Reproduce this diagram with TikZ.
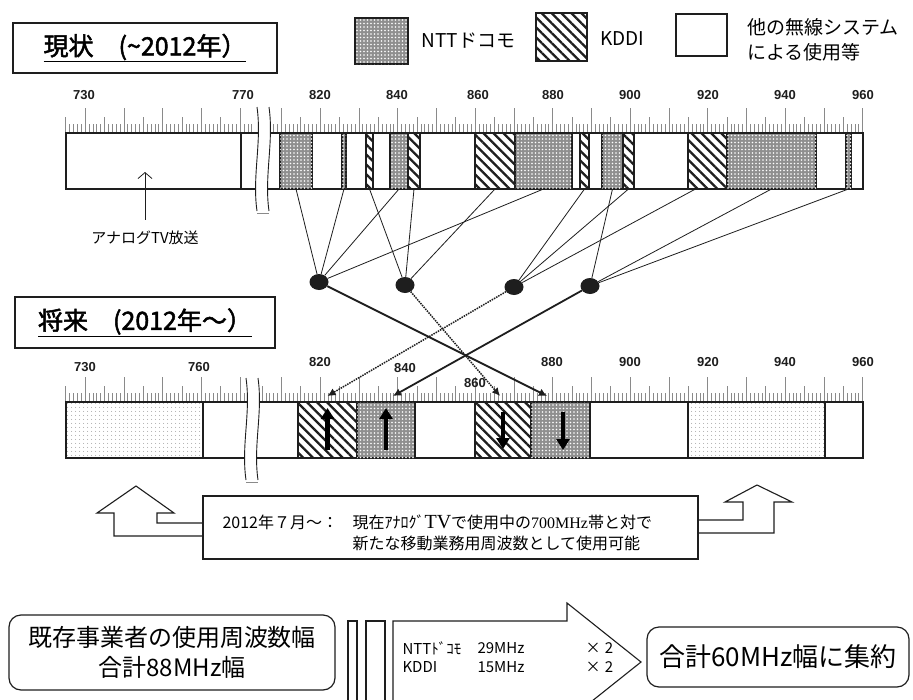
\documentclass[tikz,border=0pt]{standalone}
\usepackage{fontspec}
\setmainfont{Liberation Sans}
\newfontfamily\jp{Noto Sans CJK JP}
\newfontfamily\jpb{Noto Sans CJK JP}[FakeBold=2]
\newfontfamily\tms{Liberation Serif}
\usepackage{tikz}
\usetikzlibrary{patterns.meta,arrows.meta,shapes.geometric}
\definecolor{ink}{HTML}{1E1E1E}
\definecolor{rulegray}{HTML}{8A8A8A}
\definecolor{dotgray}{HTML}{8F8F8F}

\tikzset{
  band/.style={draw=ink, line width=1.1pt, minimum height=56pt, inner sep=0pt, outer sep=0pt},
  idle/.style={band, fill=white},
  ntt/.style={band, fill=dotgray, postaction={pattern={Dots[distance=3.5pt,radius=0.8pt]}, pattern color=white}},
  kddi/.style={band, preaction={fill=white}, pattern={Lines[angle=-45,distance=7pt,line width=2.3pt]}, pattern color=ink},
  spare/.style={band, preaction={fill=white}, pattern={Dots[distance=4pt,radius=0.55pt]}, pattern color=gray},
  hub/.style={ellipse, fill=ink, minimum width=19pt, minimum height=16pt, inner sep=0pt},
  tie/.style={draw=ink, line width=0.8pt},
  feed/.style={draw=ink, line width=1.8pt, -{Latex[length=8pt,width=8pt]}},
  feeddot/.style={feed, line width=1.5pt, densely dotted},
  dirarrow/.style={draw=black, line width=4.5pt, -{Triangle[length=11pt,width=13pt]}},
  mhz/.style={font=\fontsize{13}{13}\selectfont\bfseries, text=ink},
  era/.style={draw=ink, line width=1.2pt, font=\jpb\fontsize{25}{25}\selectfont},
  openarrow/.style={draw=ink, line width=1.1pt, line join=miter},
  roundbox/.style={draw=ink, line width=1.2pt, rounded corners=12pt, align=center, font=\jp\fontsize{24}{30}\selectfont},
  qty/.style={font=\jp\fontsize{15}{15}\selectfont},
}

% block of a band: style, name, left x, right x, centre y
\newcommand{\blk}[5]{\node[#1, minimum width={(#4)-(#3)}] (#2) at ({((#3)+(#4))/2},#5) {};}
% ruler ticks: base y, x offset, first MHz, last MHz
\newcommand{\ruler}[4]{%
  \foreach \f in {#3,...,#4}{%
    \pgfmathsetmacro\tlen{mod(\f,10)==0 ? 25 : (mod(\f,5)==0 ? 16 : 9)}%
    \draw[rulegray, line width=0.5pt] ({#2+\f*3.875},#1) -- ++(0,-\tlen);}}
% cut in the frequency axis: left x, top y, bottom y
\newcommand{\brk}[3]{%
  \fill[white] (#1,#2) .. controls ({#1+5},{#2+35}) and ({#1-5},{#3-35}) .. (#1,#3)
    -- ({#1+12},#3) .. controls ({#1+7},{#3-35}) and ({#1+17},{#2+35}) .. ({#1+12},#2) -- cycle;
  \draw[ink, line width=0.9pt] (#1,#2) .. controls ({#1+5},{#2+35}) and ({#1-5},{#3-35}) .. (#1,#3);
  \draw[ink, line width=0.9pt] ({#1+12},#2) .. controls ({#1+17},{#2+35}) and ({#1+7},{#3-35}) .. ({#1+12},#3);
  \draw[rulegray, line width=0.8pt] (#1,{#3+2}) -- ({#1+12},{#3+2});}

\begin{document}
\begin{tikzpicture}[x=1pt, y=-1pt]
  \fill[white] (0,0) rectangle (913,699);
  \useasboundingbox (0,0) rectangle (913,699);

  % legend
  \node[era, minimum width=264pt, minimum height=50pt] (now) at (145,48) {\underline{現状\hspace{1em}(\textasciitilde2012年）}};
  \node[ntt, minimum width=53pt, minimum height=46pt] (keyntt) at (381.5,41) {};
  \node[anchor=west, font=\jp\fontsize{19}{19}\selectfont] (keyntttxt) at (418,41) {NTTドコモ};
  \node[kddi, minimum width=51pt, minimum height=48pt] (keykddi) at (561.5,37) {};
  \node[anchor=west, font=\jp\fontsize{19}{19}\selectfont] (keykdditxt) at (597,39) {KDDI};
  \node[idle, minimum width=51pt, minimum height=42pt] (keyidle) at (701.5,35) {};
  \node[anchor=west, align=left, font=\jp\fontsize{19}{25}\selectfont] (keyidletxt) at (744,40) {他の無線システム\\による使用等};

  % present band
  \ruler{133}{-2743.75}{725}{773}
  \ruler{133}{-2857.5}{808}{960}
  \foreach \x/\t in {84/730, 243/770, 320/820, 397/840, 478/860, 553/880, 630/900, 708/920, 785/940, 863/960}
    \node[mhz] (u\t) at (\x,95) {\t};
  \node[idle, minimum width=797pt] (uband) at (464.5,161) {};
  \blk{idle}{atv}{66}{241}{161}
  \blk{ntt}{n1}{280}{312}{161}
  \blk{ntt}{n2}{342}{346}{161}
  \blk{kddi}{k1}{366}{373}{161}
  \blk{ntt}{n3}{390}{408}{161}
  \blk{kddi}{k2}{408}{420}{161}
  \blk{kddi}{k3}{475}{515}{161}
  \blk{ntt}{n4}{515}{572}{161}
  \blk{kddi}{k4}{580}{589}{161}
  \blk{ntt}{n5}{602}{623}{161}
  \blk{kddi}{k5}{623}{634}{161}
  \blk{kddi}{k6}{688}{727}{161}
  \blk{ntt}{n6}{727}{816}{161}
  \blk{ntt}{n7}{846}{851}{161}
  \brk{257}{107}{211}

  \node[font=\jp\fontsize{15}{15}\selectfont] (atvtxt) at (145,238) {アナログTV放送};
  \coordinate (atvtip) at (145,172);
  \draw[ink, line width=0.8pt, -{Straight Barb[length=6pt,width=14pt]}] ([yshift=8pt]atvtxt.north) -- (atvtip);

  % regrouping
  \node[hub] (h1) at (319,282) {};
  \node[hub] (h2) at (405,285) {};
  \node[hub] (h3) at (514,287) {};
  \node[hub] (h4) at (590,286) {};
  \foreach \b in {n1,n2,n3,n4} \draw[tie] (\b.south) -- (h1);
  \foreach \b in {k1,k2,k3} \draw[tie] (\b.south) -- (h2);
  \draw[tie] (k4.south) -- (h3);
  \draw[tie] (k5.south) -- (h3);
  \draw[tie] ([xshift=-12pt]k6.south) -- (h3);
  \foreach \b in {n5,n6,n7} \draw[tie] (\b.south) -- (h4);

  % future band
  \node[era, minimum width=260pt, minimum height=51pt] (later) at (145,322.5) {\underline{将来\hspace{1em}(2012年～）}};
  \ruler{402}{-2743.75}{725}{771}
  \ruler{402}{-2857.5}{805}{960}
  \foreach \x/\y/\t in {85/367/730, 199/367/760, 320/362/820, 405/368/840, 475/383/860, 552/362/880, 630/362/900, 708/362/920, 785/362/940, 863/362/960}
    \node[mhz] (l\t) at (\x,\y) {\t};
  \node[idle, minimum width=797pt] (lband) at (464.5,430) {};
  \blk{spare}{lsp1}{66}{203}{430}
  \blk{kddi}{lku}{298}{357}{430}
  \blk{ntt}{lnu}{357}{415}{430}
  \blk{kddi}{lkd}{475}{531}{430}
  \blk{ntt}{lnd}{531}{590}{430}
  \blk{spare}{lsp2}{688}{825}{430}
  \brk{246}{378}{480}

  \foreach \b in {lku,lnu} \draw[dirarrow] ([yshift=-20pt]\b.center) -- ([yshift=22pt]\b.center);
  \draw[dirarrow] ([yshift=18pt]lkd.center) -- ([yshift=-19pt]lkd.center);
  \draw[dirarrow] ([xshift=2.5pt,yshift=18pt]lnd.center) -- ([xshift=2.5pt,yshift=-20pt]lnd.center);

  \draw[feed] (h1) -- ([xshift=-13.5pt,yshift=6pt]lnd.north);
  \draw[feeddot] (h2) -- ([xshift=-3pt,yshift=6pt]lkd.north);
  \draw[feeddot] (h3) -- ([yshift=6pt]lku.north);
  \draw[feed] (h4) -- ([xshift=7pt,yshift=6pt]lnu.north);

  % note
  \node[draw=ink, line width=1.2pt, minimum width=495pt, minimum height=63pt, inner sep=0pt] (note) at (450.5,527.5) {};
  \node[anchor=west, font=\jp\fontsize{16}{16}\selectfont] (notea) at (219,522) {2012年７月～：};
  \node[anchor=west, font=\jp\fontsize{16}{16}\selectfont] (noteb) at (349,522) {現在ｱﾅﾛｸﾞ{\tms\fontsize{20}{20}\selectfont TV}で使用中の{\tms 700MHz}帯と対で};
  \node[anchor=west, font=\jp\fontsize{16}{16}\selectfont] (notec) at (349,543) {新たな移動業務用周波数として使用可能};
  \draw[openarrow] ([yshift=4.5pt]note.west) -- (157,523) -- (157,513) -- (174,513) -- (136,486)
    -- (97,513) -- (114,513) -- (114,536) -- ([yshift=-8.5pt]note.west);
  \draw[openarrow] ([yshift=7.5pt]note.east) -- (743,520) -- (743,502) -- (725,502) -- (757,485)
    -- (792,502) -- (774,502) -- (774,533) -- ([yshift=-5.5pt]note.east);

  % summary
  \node[roundbox, minimum width=326pt, minimum height=75pt] (oldw) at (172,652.5) {既存事業者の使用周波数幅\\合計88MHz幅};
  \draw[openarrow] (348,621) rectangle (357,703);
  \draw[openarrow] (366,621) rectangle (385,703);
  \draw[openarrow] (393,703) -- (393,621) -- (567,621) -- (567,603) -- (641,662) -- (567,721) -- (567,703) -- cycle;
  \node[anchor=west, qty] (qn) at (399,648) {NTTﾄﾞｺﾓ};
  \node[anchor=east, qty] (qnw) at (528,648) {29MHz};
  \node[qty] (qnx) at (593,648) {×};
  \node[qty] (qn2) at (609,648) {2};
  \node[anchor=west, qty] (qk) at (399,667) {KDDI};
  \node[anchor=east, qty] (qkw) at (528,667) {15MHz};
  \node[qty] (qkx) at (593,667) {×};
  \node[qty] (qk2) at (609,667) {2};
  \node[roundbox, minimum width=262pt, minimum height=60pt, font=\jp\fontsize{26}{26}\selectfont] (neww) at (778,657) {合計60MHz幅に集約};
\end{tikzpicture}
\end{document}
